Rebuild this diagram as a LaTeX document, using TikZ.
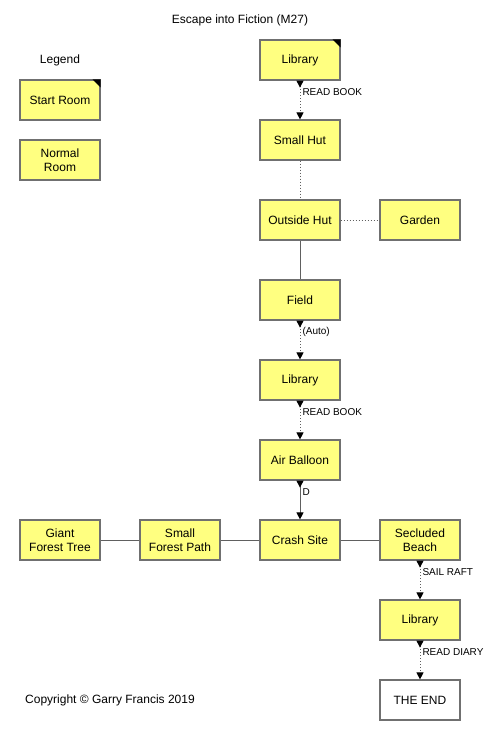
\documentclass[tikz,border=0pt]{standalone}
\usepackage{fontspec}
\setmainfont{Liberation Sans}
\usetikzlibrary{arrows.meta}

\definecolor{roomfill}{RGB}{255,255,128}
\definecolor{roomline}{RGB}{112,112,112}
\definecolor{linkline}{RGB}{96,96,96}

\tikzset{room/.style={draw=roomline,line width=1.2pt,fill=roomfill,minimum width=80pt,minimum height=40pt,inner sep=1pt,align=center,font=\fontsize{12}{14}\selectfont},
    endroom/.style={room,fill=white},
    link/.style={draw=linkline,line width=1pt},
    dlink/.style={link,dotted},
    oneway/.style={{Triangle[reversed,width=7pt,length=7pt,color=black]}-{Triangle[width=7pt,length=7pt,color=black]}},
    elabel/.style={anchor=west,inner sep=1pt,xshift=1pt,font=\fontsize{10}{11}\selectfont},
    plain/.style={font=\fontsize{12}{14}\selectfont}}

\begin{document}
\begin{tikzpicture}[x=1pt,y=-1pt]
        \useasboundingbox (0,0) rectangle (500,740);
        % title and legend
        \node[plain] (title) at (240,20) {Escape into Fiction (M27)};
        \node[plain] (legend) at (60,60) {Legend};
        \node[room] (keystart) at (60,100) {Start Room};
        \node[room] (keynormal) at (60,160) {Normal\\Room};
        % draw the rooms
        \node[room] (library1) at (300,60) {Library};
        \node[room] (smallhut) at (300,140) {Small Hut};
        \node[room] (outsidehut) at (300,220) {Outside Hut};
        \node[room] (garden) at (420,220) {Garden};
        \node[room] (field) at (300,300) {Field};
        \node[room] (library2) at (300,380) {Library};
        \node[room] (balloon) at (300,460) {Air Balloon};
        \node[room] (giant) at (60,540) {Giant\\Forest Tree};
        \node[room] (path) at (180,540) {Small\\Forest Path};
        \node[room] (crash) at (300,540) {Crash Site};
        \node[room] (beach) at (420,540) {Secluded\\Beach};
        \node[room] (library3) at (420,620) {Library};
        \node[endroom] (theend) at (420,700) {THE END};
        % mark the start rooms
        \fill (keystart.north east) -- ++(-8,0) -- ++(8,8) -- cycle;
        \fill (library1.north east) -- ++(-8,0) -- ++(8,8) -- cycle;
        % draw the connections
        \draw[dlink,oneway] (library1) -- node[elabel,pos=0.3]{READ BOOK} (smallhut);
        \draw[dlink] (smallhut) -- (outsidehut);
        \draw[dlink] (outsidehut) -- (garden);
        \draw[link] (outsidehut) -- (field);
        \draw[dlink,oneway] (field) -- node[elabel,pos=0.3]{(Auto)} (library2);
        \draw[dlink,oneway] (library2) -- node[elabel,pos=0.3]{READ BOOK} (balloon);
        \draw[link,oneway] (balloon) -- node[elabel,pos=0.3]{D} (crash);
        \draw[link] (giant) -- (path);
        \draw[link] (path) -- (crash);
        \draw[link] (crash) -- (beach);
        \draw[dlink,oneway] (beach) -- node[elabel,pos=0.3]{SAIL RAFT} (library3);
        \draw[dlink,oneway] (library3) -- node[elabel,pos=0.3]{READ DIARY} (theend);
        % copyright
        \node[plain] (copyright) at (110,700) {Copyright © Garry Francis 2019};
    \end{tikzpicture}
\end{document}
